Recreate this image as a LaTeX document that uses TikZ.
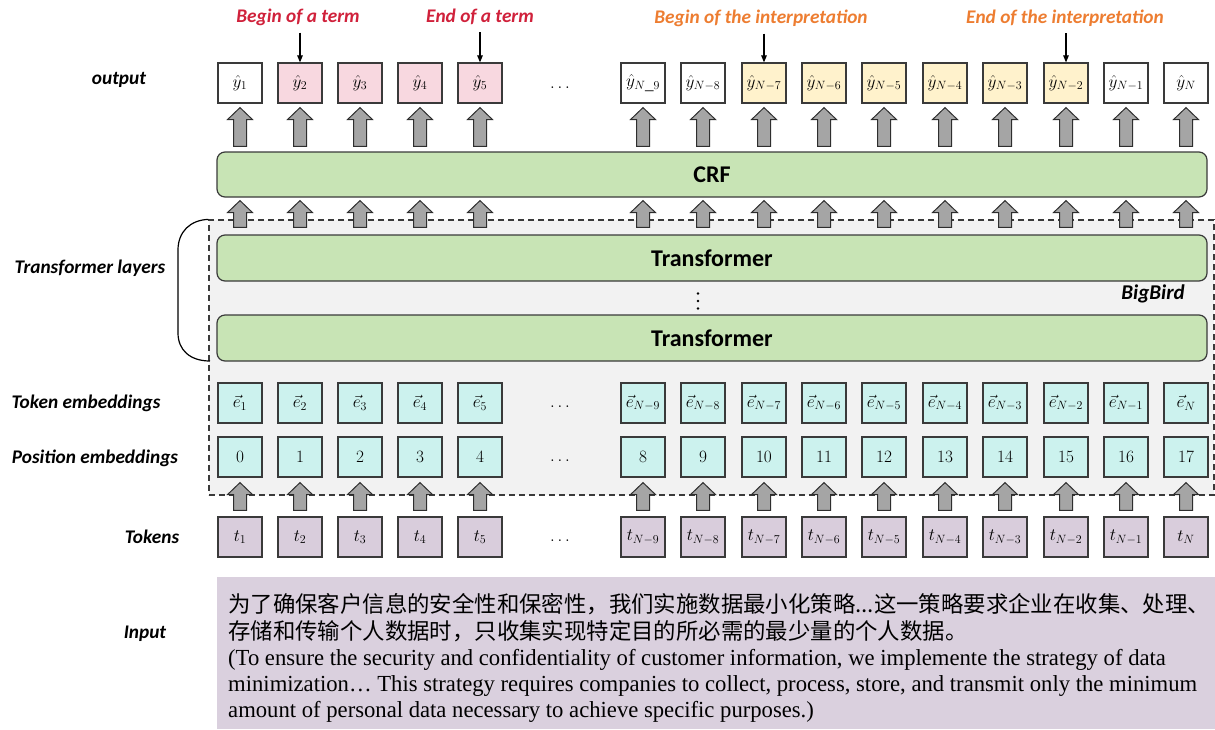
\documentclass[tikz,border=0pt]{standalone}
\usepackage{fontspec}
\setmainfont{Liberation Serif}
\newfontfamily\calibri{Carlito}
\newfontfamily\cjkfont{Noto Sans CJK SC}
\newfontfamily\narrowserif[FakeStretch=0.985]{Liberation Serif}
\usetikzlibrary{calc,arrows.meta}
\definecolor{termred}{HTML}{D0213B}
\definecolor{interporange}{HTML}{ED7D31}
\definecolor{boxline}{HTML}{3A3A3A}
\definecolor{termpink}{HTML}{F8D8E0}
\definecolor{interpyellow}{HTML}{FFF2CC}
\definecolor{embcyan}{HTML}{CCF2EE}
\definecolor{tokpurple}{HTML}{D9CDDC}
\definecolor{inpurple}{HTML}{DAD0DE}
\definecolor{boxgreen}{HTML}{C8E4B5}
\definecolor{bggray}{HTML}{F2F2F2}
\definecolor{arrgray}{HTML}{A5A5A5}
\definecolor{arrline}{HTML}{2E2E2E}
\newcommand\blockarrow[3]{%
  \path let \p0=(#1), \p1=(#2), \p2=(#3) in
    [arrowshape] (\x0-6.5pt,\y1) -- (\x0-6.5pt,\y2-12pt) -- (\x0-12.5pt,\y2-12pt)
    -- (\x0,\y2) -- (\x0+12.5pt,\y2-12pt) -- (\x0+6.5pt,\y2-12pt) -- (\x0+6.5pt,\y1) -- cycle;}
\begin{document}
\begin{tikzpicture}[x=1pt,y=-1pt,
  cell/.style={draw=boxline, line width=1.2pt, minimum width=44pt, minimum height=40pt, inner sep=0pt, font=\fontsize{17}{19}\selectfont},
  wide/.style={draw=boxline, line width=1.2pt, rounded corners=8pt, fill=boxgreen, minimum width=990pt, inner sep=0pt, font=\calibri\bfseries\fontsize{24}{28}\selectfont},
  lab/.style={font=\calibri\bfseries\itshape\fontsize{19.3}{23}\selectfont, inner sep=0pt},
  arrowshape/.style={draw=arrline, fill=arrgray, line width=1pt, line join=miter},
  pointer/.style={-{Triangle[length=7pt,width=5.5pt]}, line width=1.1pt},
  dotsnode/.style={font=\fontsize{16}{18}\selectfont, inner sep=0pt},
  inline/.style={anchor=base west, inner sep=0pt},
]
\useasboundingbox (0,0) rectangle (1215,729);

% BigBird dashed area
\node[draw=boxline, dashed, dash pattern=on 6pt off 4pt, line width=1.2pt, fill=bggray,
  minimum width=1005pt, minimum height=275pt, inner sep=0pt] (bb) at (711.5,357.5) {};
\node[lab, font=\calibri\bfseries\itshape\fontsize{21}{25}\selectfont] (bbl) at (1153,294) {BigBird};

% wide boxes
\node[wide, minimum height=45pt] (crf) at (712,174.5) {CRF};
\node[wide, minimum height=46pt] (tr1) at (712,258) {Transformer};
\node[wide, minimum height=46pt] (tr2) at (712,338) {Transformer};
\coordinate (vd) at (698,301);
\foreach \dy in {-7.5,0,7.5} \fill ($(vd)+(0,\dy)$) circle (1.4pt);

% bracket
\coordinate (brb) at (210,361);
\draw[line width=1.2pt] (bb.north west) .. controls (190,220) and (178,232) .. (178,250)
  -- (178,333) .. controls (178,350) and (190,361) .. (brb);

% columns
\foreach \i/\x/\sub/\osub/\pos/\oc in {
  1/240/1/1/0/white, 2/300/2/2/1/termpink, 3/360/3/3/2/termpink, 4/420/4/4/3/termpink, 5/480/5/5/4/termpink,
  6/643/{N-9}/{N\_9}/8/white, 7/703/{N-8}/{N-8}/9/white, 8/764/{N-7}/{N-7}/10/interpyellow,
  9/824/{N-6}/{N-6}/11/interpyellow, 10/884/{N-5}/{N-5}/12/interpyellow, 11/945/{N-4}/{N-4}/13/interpyellow,
  12/1005/{N-3}/{N-3}/14/interpyellow, 13/1066/{N-2}/{N-2}/15/interpyellow, 14/1126/{N-1}/{N-1}/16/white,
  15/1186/N/N/17/white} {
  \node[cell, fill=\oc] (o\i) at (\x,83) {$\hat{y}_{\osub}$};
  \node[cell, fill=embcyan] (e\i) at (\x,403) {$\vec{e}_{\sub}$};
  \node[cell, fill=embcyan] (p\i) at (\x,457) {$\pos$};
  \node[cell, fill=tokpurple] (t\i) at (\x,537) {$t_{\sub}$};
  \blockarrow{o\i}{$(crf.north -| o\i)+(0,-5)$}{$(o\i.south)+(0,4)$}
  \blockarrow{o\i}{$(tr1.north -| o\i)+(0,-7)$}{$(crf.south -| o\i)+(0,3)$}
  \blockarrow{o\i}{$(t\i.north)+(0,-6)$}{$(p\i.south)+(0,5)$}
}

% ellipses
\node[dotsnode] (d1) at (560,88) {$\ldots$};
\node[dotsnode] (d2) at (560,407) {$\ldots$};
\node[dotsnode] (d3) at (560,461) {$\ldots$};
\node[dotsnode] (d4) at (560,541) {$\ldots$};

% top annotations
\node[lab, text=termred] (bt) at (298,17) {Begin of a term};
\node[lab, text=termred] (et) at (480,17) {End of a term};
\node[lab, text=interporange] (bi) at (761,18) {Begin of the interpretation};
\node[lab, text=interporange] (ei) at (1065,18) {End of the interpretation};
\draw[pointer] ($(o2.north |- bt.south)+(0,7)$) -- (o2.north);
\draw[pointer] ($(o5.north |- et.south)+(0,7)$) -- (o5.north);
\draw[pointer] ($(o8.north |- bi.south)+(0,7)$) -- (o8.north);
\draw[pointer] ($(o13.north |- ei.south)+(0,7)$) -- (o13.north);

% left labels
\node[lab] (lout) at (119,80) {output};
\node[lab] (ltr) at (90,268) {Transformer layers};
\node[lab] (ltok) at (86,403) {Token embeddings};
\node[lab] (lpos) at (95,458) {Position embeddings};
\node[lab] (ltk) at (152,537) {Tokens};
\node[lab] (lin) at (145,634) {Input};

% input box
\node[fill=inpurple, minimum width=998pt, minimum height=152pt, inner sep=0pt, anchor=north west] (inbox) at (217,577) {};
\node[inline, font=\cjkfont\fontsize{22.4}{26}\selectfont] (in1) at (228,612) {为了确保客户信息的安全性和保密性，我们实施数据最小化策略...这一策略要求企业在收集、处理、};
\node[inline, font=\cjkfont\fontsize{22.4}{26}\selectfont] (in2) at (228,639) {存储和传输个人数据时，只收集实现特定目的所必需的最少量的个人数据。};
\node[inline, font=\narrowserif\fontsize{23}{26}\selectfont] (in3) at (228,665) {(To ensure the security and confidentiality of customer information, we implemente the strategy of data};
\node[inline, font=\narrowserif\fontsize{23}{26}\selectfont] (in4) at (228,691) {minimization… This strategy requires companies to collect, process, store, and transmit only the minimum};
\node[inline, font=\narrowserif\fontsize{23}{26}\selectfont] (in5) at (228,717) {amount of personal data necessary to achieve specific purposes.)};
\end{tikzpicture}
\end{document}
